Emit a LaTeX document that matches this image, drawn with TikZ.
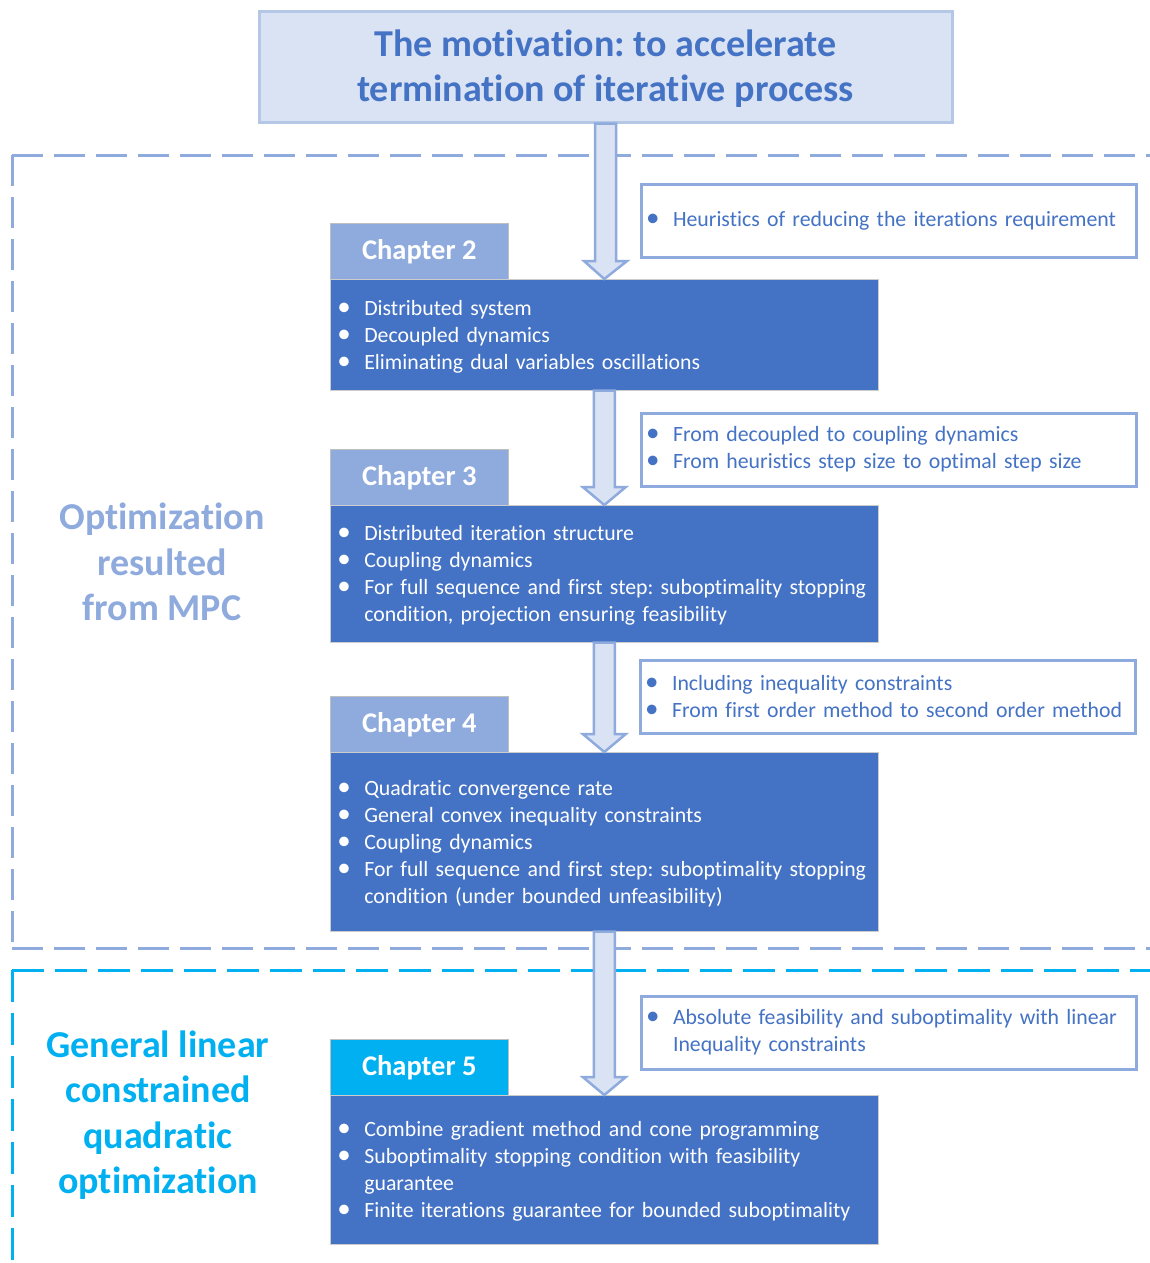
\documentclass[tikz,border=0pt]{standalone}
\usepackage{fontspec}
\setmainfont{Carlito}[Ligatures=CommonOff]
\usetikzlibrary{calc}
\frenchspacing
\definecolor{dblue}{HTML}{4472C4}
\definecolor{mblue}{HTML}{8FAADC}
\definecolor{lblue}{HTML}{DAE3F3}
\definecolor{tborder}{HTML}{B4C7E7}
\definecolor{cyanb}{HTML}{00B0F0}
\newcommand\bl[1]{\par\hangindent=27pt\hangafter=1\noindent\makebox[27pt][l]{\hspace{0pt}{\fontsize{27}{27}\selectfont\textbullet}}#1}
\newcommand\up{\par\vspace{8pt}}
\newcommand\upn{\par\vspace{12pt}}
\newcommand\blockarrow[2]{\path[blockarr] let \p1=(#1), \p2=(#2) in
  (\x1-10.5pt,\y1) -- (\x1-10.5pt,\y2+18pt) -- (\x1-21.5pt,\y2+18pt) -- (\x2,\y2)
  -- (\x1+21.5pt,\y2+18pt) -- (\x1+10.5pt,\y2+18pt) -- (\x1+10.5pt,\y1) -- cycle;}
\tikzset{
  dashA/.style={draw=mblue, line width=3pt, dash pattern=on 31pt off 11pt},
  dashB/.style={draw=cyanb, line width=3pt, dash pattern=on 32pt off 11pt},
  blockarr/.style={fill=lblue, draw=mblue, line width=2.5pt, line join=miter},
  titlebox/.style={draw=tborder, fill=lblue, line width=3pt, anchor=north west,
    minimum width=693pt, minimum height=110pt, text=dblue, align=center,
    font=\fontsize{38}{45}\selectfont\bfseries},
  chtab/.style={fill=mblue, draw=black!25, line width=0.6pt, anchor=north west,
    minimum width=178pt, minimum height=56pt, text=white,
    font=\fontsize{28.5}{30}\selectfont\bfseries},
  chbox/.style={fill=dblue, draw=black!20, line width=0.6pt, anchor=north west,
    text width=534pt, inner xsep=7pt, inner ysep=0pt, text=white, align=left,
    font=\fontsize{21.8}{27}\selectfont},
  note/.style={fill=white, draw=mblue, line width=3pt, anchor=north west,
    text width=485pt, inner xsep=5pt, inner ysep=0pt, text=dblue, align=left,
    font=\fontsize{21.8}{27}\selectfont},
  sidelab/.style={align=center, font=\fontsize{38}{45.5}\selectfont\bfseries},
}
\begin{document}
\begin{tikzpicture}[x=1pt,y=-1pt]
\useasboundingbox (0,0) rectangle (1150,1263);
% dashed regions
\draw[dashA] (12,155) -- (1165,155);
\draw[dashA] (12,155) -- (12,948);
\draw[dashA] (12,948) -- (1165,948);
\draw[dashB] (12,970) -- (1165,970);
\draw[dashB] (12,970) -- (12,1275);
% side labels
\node[sidelab, text=mblue] (labA) at (162,562) {Optimization\\resulted\\from MPC};
\node[sidelab, text=cyanb] (labB) at (158,1115) {General linear\\constrained\\quadratic\\optimization};
% title
\node[titlebox] (title) at (257.5,10.5) {The motivation: to accelerate\\termination of iterative process\par\vspace{-3pt}};
% chapter 2
\node[chtab] (t2) at (330,223) {Chapter 2};
\node[chbox, minimum height=111pt] (c2) at (330,279) {%
\bl{Distributed system}\bl{Decoupled dynamics}\bl{Eliminating dual variables oscillations}\up};
% chapter 3
\node[chtab] (t3) at (330,449) {Chapter 3};
\node[chbox, minimum height=137pt] (c3) at (330,505) {%
\bl{Distributed iteration structure}\bl{Coupling dynamics}\bl{For full sequence and first step: suboptimality stopping\hfil\break condition, projection ensuring feasibility}\up};
% chapter 4
\node[chtab] (t4) at (330,696) {Chapter 4};
\node[chbox, minimum height=179pt] (c4) at (330,752) {%
\bl{Quadratic convergence rate}\bl{General convex inequality constraints}\bl{Coupling dynamics}\bl{For full sequence and first step: suboptimality stopping\hfil\break condition (under bounded unfeasibility)}\up};
% chapter 5
\node[chtab, fill=cyanb] (t5) at (330,1039) {Chapter 5};
\node[chbox, minimum height=149pt] (c5) at (330,1095) {%
\bl{Combine gradient method and cone programming}\bl{Suboptimality stopping condition with feasibility\hfil\break guarantee}\bl{Finite iterations guarantee for bounded suboptimality}\up};
% notes
\node[note, minimum height=73pt] (n1) at (639.5,182.5) {\bl{Heuristics of reducing the iterations requirement}\upn};
\node[note, minimum height=73pt] (n2) at (639.5,411.5) {\bl{From decoupled to coupling dynamics}\bl{From heuristics step size to optimal step size}\upn};
\node[note, minimum height=73pt] (n3) at (638.5,658.5) {\bl{Including inequality constraints}\bl{From first order method to second order method}\upn};
\node[note, minimum height=73pt] (n4) at (639.5,994.5) {\bl{Absolute feasibility and suboptimality with linear\hfil\break Inequality constraints}\upn};
% arrows
\blockarrow{title.south}{c2.north}
\blockarrow{c2.south}{c3.north}
\blockarrow{c3.south}{c4.north}
\blockarrow{c4.south}{c5.north}
\end{tikzpicture}
\end{document}
